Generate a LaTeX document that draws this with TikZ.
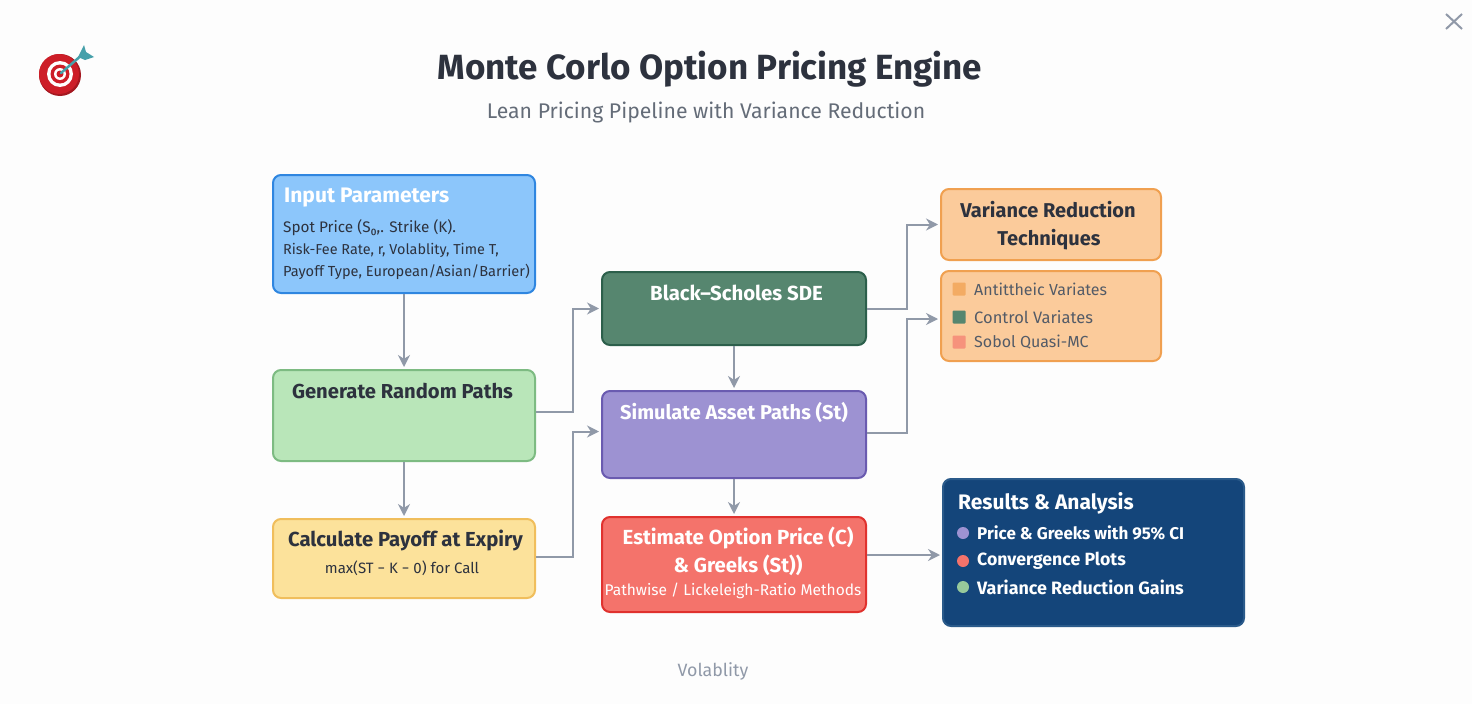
\documentclass[tikz,border=0pt]{standalone}
\usepackage{fontspec}
\setmainfont{Fira Sans}
\usetikzlibrary{arrows.meta}
\definecolor{pagebg}{RGB}{253,253,253}
\definecolor{inkdark}{RGB}{45,50,62}
\definecolor{inkgrey}{RGB}{100,108,120}
\definecolor{linkgrey}{RGB}{144,153,168}
\definecolor{inputfill}{RGB}{140,198,251}
\definecolor{inputline}{RGB}{47,134,224}
\definecolor{pathsfill}{RGB}{185,230,185}
\definecolor{pathsline}{RGB}{125,187,130}
\definecolor{payofffill}{RGB}{252,226,155}
\definecolor{payoffline}{RGB}{240,190,92}
\definecolor{sdefill}{RGB}{86,134,111}
\definecolor{sdeline}{RGB}{44,95,75}
\definecolor{assetfill}{RGB}{157,146,210}
\definecolor{assetline}{RGB}{106,91,176}
\definecolor{pricefill}{RGB}{244,115,107}
\definecolor{priceline}{RGB}{224,50,46}
\definecolor{varfill}{RGB}{251,203,155}
\definecolor{varline}{RGB}{240,160,80}
\definecolor{resfill}{RGB}{20,69,122}
\definecolor{resline}{RGB}{42,90,138}
\definecolor{dartteal}{RGB}{70,160,170}
\definecolor{targetred}{RGB}{205,30,40}
\newcommand{\flowbox}[6]{\node[box,draw=#2line,fill=#2fill,minimum width=#5,minimum height=#6] (#1) at (#3,#4) {};}
\newcommand{\boxtext}[6]{\node[#1,text=#2,font=\fontsize{#3}{#3}\selectfont] (#4) at #5 {#6};}
\tikzset{
  box/.style={draw,rounded corners=8pt,line width=2pt},
  flowlink/.style={draw=linkgrey,line width=2pt,shorten >=2pt,-{Stealth[length=12pt,width=12pt]}},
  swatch/.style={minimum size=13pt,inner sep=0pt,rounded corners=1pt},
  dot/.style={circle,minimum size=12pt,inner sep=0pt},
  textbit/.style={inner sep=0pt,anchor=center},
  leftbit/.style={inner sep=0pt,anchor=west},
}
\begin{document}
\begin{tikzpicture}[x=1pt,y=-1pt]
\useasboundingbox[fill=pagebg] (0,0) rectangle (1472,704);
% boxes
\flowbox{inputbox}{input}{404}{234}{262pt}{118pt}
\flowbox{pathsbox}{paths}{404}{415.5}{262pt}{91pt}
\flowbox{payoffbox}{payoff}{404}{558.5}{262pt}{79pt}
\flowbox{sdebox}{sde}{734}{308.5}{264pt}{73pt}
\flowbox{assetbox}{asset}{734}{434.5}{264pt}{87pt}
\flowbox{pricebox}{price}{734}{564.5}{264pt}{95pt}
\flowbox{varhead}{var}{1051}{224.5}{220pt}{71pt}
\flowbox{varlist}{var}{1051}{316}{220pt}{90pt}
\flowbox{resbox}{res}{1093.5}{552.5}{301pt}{147pt}
% connectors
\draw[flowlink] (inputbox.south) -- (pathsbox.north);
\draw[flowlink] (pathsbox.south) -- (payoffbox.north);
\draw[flowlink] (sdebox.south) -- (assetbox.north);
\draw[flowlink] (assetbox.south) -- (pricebox.north);
\draw[flowlink] ([yshift=4pt]pathsbox.east) -- ++(37,0) |- (sdebox.west);
\draw[flowlink] ([yshift=2pt]payoffbox.east) -- ++(37,0) |- ([yshift=3pt]assetbox.west);
\draw[flowlink] (sdebox.east) -- ++(40,0) |- (varhead.west);
\draw[flowlink] ([yshift=2pt]assetbox.east) -- ++(40,0) |- ([yshift=-3pt]varlist.west);
\draw[flowlink] ([yshift=9.5pt]pricebox.east) -- ([yshift=-2.5pt]resbox.west);
% heading
\boxtext{textbit}{inkdark}{35}{maintitle}{(710,69)}{\textbf{Monte Corlo Option Pricing Engine}}
\boxtext{textbit}{inkgrey}{21.2}{subtitle}{(706,112)}{Lean Pricing Pipeline with Variance Reduction}
\boxtext{textbit}{linkgrey}{17.8}{footnote}{(713,671)}{Volablity}
% left column
\boxtext{leftbit}{white}{21}{inputhead}{(284,198)}{\textbf{Input Parameters}}
\boxtext{leftbit}{inkdark}{15.3}{inputone}{(283,228)}{Spot Price (S₀,. Strike (K).}
\boxtext{leftbit}{inkdark}{14.4}{inputtwo}{(283,250)}{Risk-Fee Rate, r, Volablity, Time T,}
\boxtext{leftbit}{inkdark}{14.6}{inputthree}{(283,272)}{Payoff Type, European/Asian/Barrier)}
\boxtext{textbit}{inkdark}{20.2}{pathshead}{(402.5,391)}{\textbf{Generate Random Paths}}
\boxtext{textbit}{inkdark}{20.3}{payoffhead}{(405.5,541)}{\textbf{Calculate Payoff at Expiry}}
\boxtext{textbit}{inkdark}{15}{payoffnote}{(402,568)}{max(ST − K − 0) for Call}
% middle column
\boxtext{textbit}{white}{20.4}{sdehead}{(736.5,293)}{\textbf{Black–Scholes SDE}}
\boxtext{textbit}{white}{20}{assethead}{(734,412)}{\textbf{Simulate Asset Paths (St)}}
\boxtext{textbit}{white}{20.4}{pricehead}{(738,538)}{\textbf{Estimate Option Price (C)}}
\boxtext{textbit}{white}{20.4}{pricesub}{(738,565)}{\textbf{\& Greeks (St))}}
\boxtext{textbit}{white}{15.5}{pricenote}{(733,591)}{Pathwise / Lickeleigh-Ratio Methods}
% variance boxes
\boxtext{textbit}{inkdark}{20}{varone}{(1048,210)}{\textbf{Variance Reduction}}
\boxtext{textbit}{inkdark}{20}{vartwo}{(1049,240)}{\textbf{Techniques}}
\foreach \swname/\swcolor/\swy/\swsize/\swtext in {antithetic/varline!75!varfill/289/16/Antittheic Variates,control/sdefill/317/16.5/Control Variates,sobol/pricefill!65!varfill/342/16/Sobol Quasi-MC}{
  \node[swatch,fill=\swcolor] (\swname sq) at (959,\swy) {};
  \boxtext{leftbit}{inkgrey!70!inkdark}{\swsize}{\swname}{(974,\swy)}{\swtext}
}
% results box
\boxtext{leftbit}{white}{21}{reshead}{(958,503)}{\textbf{Results \& Analysis}}
\foreach \resname/\rescolor/\resy/\ressize/\restext in {greeks/assetfill/533/17/Price \& Greeks with 95\% CI,plots/pricefill/561/17.7/Convergence Plots,gains/pathsline!80!white/587/17.9/Variance Reduction Gains}{
  \node[dot,fill=\rescolor] (\resname dot) at (963,\resy) {};
  \boxtext{leftbit}{white}{\ressize}{\resname}{(977,\resy)}{\textbf{\restext}}
}
% target icon
\fill[targetred!80!black] (60,75) circle (21);
\fill[targetred] (59,74) circle (20);
\fill[white] (60,74) circle (13);
\fill[targetred] (60,74) circle (9.5);
\fill[white] (60,74) circle (6);
\fill[targetred] (60,74) circle (3.5);
\draw[dartteal,line width=2.5pt,line cap=round] (61,73) -- (83,54);
\fill[dartteal] (78,57) -- (84,45) -- (86,52) -- (94,57) -- (85,60) -- cycle;
% close mark
\draw[linkgrey,line width=2pt] (1446,14) -- (1462,29) (1462,14) -- (1446,29);
\end{tikzpicture}
\end{document}
